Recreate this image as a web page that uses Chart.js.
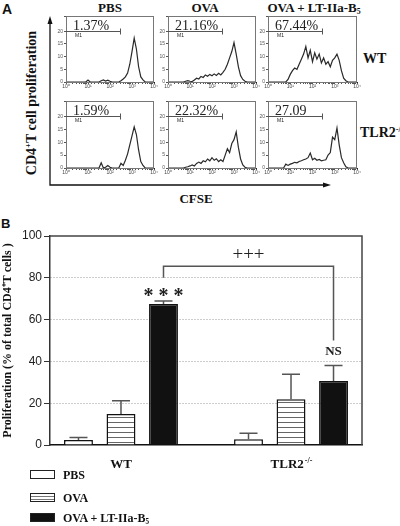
<!DOCTYPE html>
<html>
<head>
<meta charset="utf-8">
<script src="https://cdn.jsdelivr.net/npm/chart.js@4.4.1/dist/chart.umd.min.js"></script>
<style>
body { margin: 0; background: #fff; }
#page { position: relative; width: 400px; height: 526px; overflow: hidden; font-family: 'Liberation Serif', 'Times New Roman', serif; color: #111; }
.lbl { position: absolute; font-weight: bold; white-space: nowrap; line-height: 1; }
.ctr { transform: translateX(-50%); }
.hist { position: absolute; }
.sw { position: absolute; left: 30px; width: 23px; height: 7px; border: 1.5px solid #222; }
sub { font-size: 60%; vertical-align: -2px; }
sup { font-size: 60%; vertical-align: 5px; }
</style>
</head>
<body>
<div id="page">
  <div class="lbl" style="left:2px;top:1px;font:bold 14px 'Liberation Sans',Arial,sans-serif">A</div>
  <div class="lbl ctr" style="left:110px;top:1px;font-size:13px">PBS</div>
  <div class="lbl ctr" style="left:205px;top:1px;font-size:13px">OVA</div>
  <div class="lbl ctr" style="left:314px;top:1px;font-size:13px">OVA + LT-IIa-B<sub>5</sub></div>
  <div class="lbl" style="left:363px;top:52px;font-size:14px">WT</div>
  <div class="lbl" style="left:360px;top:126px;font-size:14px">TLR2<sup>-/-</sup></div>
  <div class="lbl" style="left:32px;top:103px;font-size:14px;transform:translate(-50%,-50%) rotate(-90deg)">CD4<sup>+</sup>T cell proliferation</div>
  <div class="lbl ctr" style="left:196px;top:192px;font-size:13px">CFSE</div>
  <div class="lbl" style="left:1px;top:216px;font:bold 13px 'Liberation Sans',Arial,sans-serif">B</div>

  <svg style="position:absolute;left:0;top:0" width="400" height="200">
    <path d="M50 21 V185 H326" stroke="#111" stroke-width="1.3" fill="none"/>
    <path d="M47.5 24 L50 16 L52.5 24 Z" fill="#111"/>
    <path d="M323 182.5 L331 185 L323 187.5 Z" fill="#111"/>
  </svg>

  <div class="hist" id="w1"><canvas id="c1"></canvas></div>
  <div class="hist" id="w2"><canvas id="c2"></canvas></div>
  <div class="hist" id="w3"><canvas id="c3"></canvas></div>
  <div class="hist" id="w4"><canvas id="c4"></canvas></div>
  <div class="hist" id="w5"><canvas id="c5"></canvas></div>
  <div class="hist" id="w6"><canvas id="c6"></canvas></div>

  <div style="position:absolute;left:0;top:225px;width:400px;height:250px"><canvas id="bars"></canvas></div>

  <div id="legend"></div>
</div>

<script>
// ---- panel A: CFSE histograms ----
const cfseBins = [1, 1.26, 1.58, 2, 2.51, 3.16, 3.98, 5.01, 6.31, 7.94,
  10, 12.6, 15.8, 20, 25.1, 31.6, 39.8, 50.1, 63.1, 79.4,
  100, 126, 158, 200, 251, 316, 398, 501, 631, 794,
  1000, 1259, 1585, 1995, 2512, 3162, 3981, 5012, 6310, 7943, 10000];

const wtPbs = [0, 0, 0, 0, 0, 0, 0, 0, 0, 0,
  0.8, 0, 0, 0, 0, 0, 0.5, 0.8, 0.4, 0.7,
  0.3, 0, 0, 0, 0, 0.5, 1.2, 2, 3.5, 7,
  12, 17.3, 13, 6, 2, 0.8, 0, 0, 0, 0, 0];
const wtOva = [0, 0, 0, 0, 0, 0, 0, 0, 0.3, 0.5,
  0.3, 0.2, 0.8, 1.5, 1.2, 2.2, 1.8, 2.8, 2.3, 3,
  2.5, 3.2, 2.6, 3.4, 2.8, 3.8, 5, 7, 9.5, 12,
  15.5, 11, 6, 2.5, 1, 0.3, 0, 0, 0, 0, 0];
const wtOvaLt = [0, 0, 0, 0, 0, 0, 0, 0, 0, 1,
  3, 4.5, 5.5, 5, 7, 9, 11, 14, 9.5, 12.5,
  8, 11.5, 9, 11, 7.5, 9.5, 7, 8, 6, 8.5,
  9.5, 11, 8.5, 4.5, 1.5, 0.5, 0, 0, 0, 0, 0];
const tlrPbs = [0, 0, 0, 0, 0, 0, 0, 0, 0, 0,
  0, 0, 0, 0, 0, 0, 2, 0, 0.3, 1,
  0.3, 0, 0, 0, 0, 1.8, 1, 3, 5.5, 9,
  12.5, 16, 13, 7, 2.5, 1, 0, 0, 0, 0, 0];
const tlrOva = [0, 0, 0, 0, 0, 0, 0, 0, 0.3, 0.5,
  0.8, 1.2, 0.8, 1.8, 2.3, 1.8, 2.8, 2.4, 3.5, 2.8,
  4, 3, 3.6, 2.5, 3.2, 2.5, 5, 7.5, 6, 9.5,
  11, 14, 8, 3.5, 1.2, 0.3, 0, 0, 0, 0, 0];
const tlrOvaLt = [0, 0, 0, 0, 0, 0, 0, 0, 1.5, 1,
  1.5, 1.8, 2.2, 2, 2.5, 2.8, 3.2, 3.5, 4, 5.8,
  3.2, 3.8, 3, 3.3, 2.8, 3, 3.2, 5, 6, 12,
  11, 15.5, 9, 4, 2, 0.5, 0, 0, 0, 0, 0];

const gatePct = ['1.37%', '21.16%', '67.44%', '1.59%', '22.32%', '27.09'];
const gateLevel = 20;
const gateEnd = 280;

// ---- panel B: proliferation bars ----
const groups = ['WT', 'TLR2'];
const groupSup = ['', '-/-'];
const series = ['PBS', 'OVA', 'OVA + LT-IIa-B5'];
const pbsMean = [2.4, 2.7];
const pbsSem = [1.2, 2.9];
const ovaMean = [14.8, 21.9];
const ovaSem = [6.4, 12.0];
const ovaLtMean = [67.5, 30.6];
const ovaLtSem = [1.4, 7.4];
const yTicks = [0, 20, 40, 60, 80, 100];

const means = [pbsMean, ovaMean, ovaLtMean];
const sems = [pbsSem, ovaSem, ovaLtSem];

const sup = ['\u2070', '\u00b9', '\u00b2', '\u00b3', '\u2074'];

const panels = [
  { id: 'c1', wrap: 'w1', counts: wtPbs, box: [66, 15, 88, 67] },
  { id: 'c2', wrap: 'w2', counts: wtOva, box: [168, 15, 88, 67] },
  { id: 'c3', wrap: 'w3', counts: wtOvaLt, box: [268, 15, 89, 67] },
  { id: 'c4', wrap: 'w4', counts: tlrPbs, box: [66, 100, 88, 68] },
  { id: 'c5', wrap: 'w5', counts: tlrOva, box: [168, 100, 88, 68] },
  { id: 'c6', wrap: 'w6', counts: tlrOvaLt, box: [268, 100, 89, 68] }
];

const gatePlugin = {
  id: 'gate',
  afterDatasetsDraw(chart, args, opts) {
    const { ctx, chartArea: a, scales: { x, y } } = chart;
    ctx.save();
    ctx.strokeStyle = '#777';
    ctx.lineWidth = 1;
    ctx.strokeRect(a.left + 0.5, a.top + 0.5, a.width - 1, a.height);
    const gy = Math.round(y.getPixelForValue(gateLevel)) + 0.5;
    const gx = Math.round(x.getPixelForValue(gateEnd)) + 0.5;
    ctx.strokeStyle = '#555';
    ctx.beginPath();
    ctx.moveTo(a.left, gy);
    ctx.lineTo(gx, gy);
    ctx.moveTo(gx, gy - 3);
    ctx.lineTo(gx, gy + 3);
    ctx.stroke();
    ctx.fillStyle = '#222';
    ctx.font = '14px "Liberation Serif"';
    ctx.textBaseline = 'alphabetic';
    ctx.fillText(opts.pct, a.left + 7, gy - 2);
    ctx.font = '5px "Liberation Sans"';
    ctx.textBaseline = 'top';
    ctx.fillText('M1', a.left + 9, gy + 2);
    ctx.restore();
  }
};

panels.forEach((p, i) => {
  const [L, T, W, H] = p.box;
  const wrap = document.getElementById(p.wrap);
  wrap.style.left = (L - 14) + 'px';
  wrap.style.top = (T - 3) + 'px';
  wrap.style.width = (W + 14 + 8) + 'px';
  wrap.style.height = (H + 3 + 10) + 'px';
  new Chart(document.getElementById(p.id), {
    type: 'line',
    data: {
      datasets: [{
        data: cfseBins.map((x, k) => ({ x, y: p.counts[k] })),
        borderColor: '#2a2a2a',
        borderWidth: 1.2,
        pointRadius: 0,
        tension: 0
      }]
    },
    options: {
      responsive: true,
      maintainAspectRatio: false,
      animation: false,
      layout: { padding: { top: 3, right: 8, left: 0, bottom: 0 } },
      plugins: { legend: { display: false }, tooltip: { enabled: false }, gate: { pct: gatePct[i] } },
      scales: {
        x: {
          type: 'logarithmic', min: 1, max: 10000,
          grid: { drawOnChartArea: false, tickLength: 2, color: '#555' },
          border: { color: '#222' },
          ticks: {
            autoSkip: false, maxRotation: 0, minRotation: 0, padding: 0,
            font: { size: 5, family: 'Liberation Sans' }, color: '#444',
            callback: v => {
              const e = Math.round(Math.log10(v));
              return Math.abs(Math.pow(10, e) - v) < 1e-6 ? '10' + sup[e] : '';
            }
          },
          afterFit: s => { s.height = 10; }
        },
        y: {
          min: 0, max: 26,
          grid: { drawOnChartArea: false, tickLength: 2, color: '#555' },
          border: { color: '#222' },
          ticks: {
            stepSize: 5, padding: 1, font: { size: 5, family: 'Liberation Sans' }, color: '#555',
            callback: v => (v % 5 === 0 ? v : '')
          },
          afterFit: s => { s.width = 14; }
        }
      }
    },
    plugins: [gatePlugin]
  });
});

// ---- bar chart ----
function stripes() {
  const c = document.createElement('canvas');
  c.width = 8; c.height = 5;
  const g = c.getContext('2d');
  g.fillStyle = '#fff'; g.fillRect(0, 0, 8, 5);
  g.fillStyle = '#666'; g.fillRect(0, 2, 8, 1);
  return g.createPattern(c, 'repeat');
}
const fills = ['#ffffff', stripes(), '#111111'];

function drawSup(ctx, base, sp, x, y, size) {
  ctx.font = 'bold ' + size + 'px "Liberation Serif"';
  const w1 = ctx.measureText(base).width;
  ctx.font = 'bold ' + Math.round(size * 0.6) + 'px "Liberation Serif"';
  const w2 = sp ? ctx.measureText(sp).width : 0;
  const x0 = x - (w1 + w2) / 2;
  ctx.textAlign = 'left';
  ctx.font = 'bold ' + size + 'px "Liberation Serif"';
  ctx.fillText(base, x0, y);
  if (sp) {
    ctx.font = 'bold ' + Math.round(size * 0.6) + 'px "Liberation Serif"';
    ctx.fillText(sp, x0 + w1 + 1, y - size * 0.4);
  }
}

const barExtras = {
  id: 'barExtras',
  afterDatasetsDraw(chart) {
    const { ctx, chartArea: a, scales: { x, y } } = chart;
    ctx.save();
    // plot frame
    ctx.strokeStyle = '#444';
    ctx.lineWidth = 1.5;
    ctx.beginPath();
    ctx.moveTo(a.left, a.top);
    ctx.lineTo(a.right, a.top);
    ctx.lineTo(a.right, a.bottom);
    ctx.stroke();
    // error bars (upper only)
    ctx.strokeStyle = '#555';
    chart.data.datasets.forEach((ds, s) => {
      chart.getDatasetMeta(s).data.forEach((bar, g) => {
        const top = y.getPixelForValue(means[s][g] + sems[s][g]);
        ctx.beginPath();
        ctx.moveTo(bar.x, bar.y);
        ctx.lineTo(bar.x, top);
        ctx.moveTo(bar.x - 9, top);
        ctx.lineTo(bar.x + 9, top);
        ctx.stroke();
      });
    });
    // bracket between the two OVA + LT-IIa-B5 bars
    const bl = x.getPixelForValue(2);
    const br = x.getPixelForValue(6);
    const bt = y.getPixelForValue(85.5);
    ctx.beginPath();
    ctx.moveTo(bl, y.getPixelForValue(80));
    ctx.lineTo(bl, bt);
    ctx.lineTo(br, bt);
    ctx.lineTo(br, y.getPixelForValue(50));
    ctx.stroke();
    // significance marks
    ctx.fillStyle = '#222';
    ctx.textAlign = 'center';
    ctx.textBaseline = 'alphabetic';
    ctx.font = '19px "Liberation Serif"';
    ctx.fillText('+++', (bl + br) / 2, y.getPixelForValue(88.5));
    ctx.font = 'bold 20px "Liberation Serif"';
    ctx.fillText('* * *', bl, y.getPixelForValue(68.3));
    ctx.font = 'bold 13px "Liberation Serif"';
    ctx.fillText('NS', br, y.getPixelForValue(43));
    // group labels
    ctx.fillStyle = '#111';
    groups.forEach((g, gi) => {
      drawSup(ctx, g, groupSup[gi], x.getPixelForValue(gi * 4 + 1), a.bottom + 23, 13);
    });
    ctx.restore();
  }
};

new Chart(document.getElementById('bars'), {
  type: 'bar',
  data: {
    datasets: series.map((name, s) => ({
      label: name,
      data: groups.map((g, gi) => ({ x: gi * 4 + s, y: means[s][gi] })),
      backgroundColor: fills[s],
      borderColor: '#111',
      borderWidth: 1.5,
      grouped: false,
      barPercentage: 0.68,
      categoryPercentage: 1
    }))
  },
  options: {
    responsive: true,
    maintainAspectRatio: false,
    animation: false,
    layout: { padding: { top: 11, right: 38, left: 0, bottom: 0 } },
    plugins: { legend: { display: false }, tooltip: { enabled: false } },
    scales: {
      x: {
        type: 'linear', min: -0.67, max: 6.67, offset: false,
        grid: { display: false, offset: false },
        ticks: { display: false },
        border: { color: '#111', width: 1.5 },
        afterFit: s => { s.height = 30; }
      },
      y: {
        min: 0, max: 100,
        afterBuildTicks: s => { s.ticks = yTicks.map(v => ({ value: v })); },
        ticks: { padding: 2, color: '#222', font: { family: 'Liberation Sans', size: 12 } },
        grid: {
          color: c => (c.tick && c.tick.value > 0 && c.tick.value < 100 ? '#9a9a9a' : 'rgba(0,0,0,0)'),
          tickColor: '#333', tickLength: 6, lineWidth: 1
        },
        border: { color: '#333', width: 1.5, dash: [1, 2] },
        title: {
          display: true,
          text: 'Proliferation (% of total CD4\u207aT cells )',
          font: { family: 'Liberation Serif', size: 12, weight: 'bold' },
          color: '#111',
          padding: { top: 1, bottom: 0 }
        },
        afterFit: s => { s.width = 50; }
      }
    }
  },
  plugins: [barExtras]
});

// ---- legend ----
const legendTops = [470, 493, 513];
const swatchCss = ['#fff', 'repeating-linear-gradient(to bottom, #fff 0 2px, #777 2px 3px)', '#111'];
const legendHtml = ['PBS', 'OVA', 'OVA + LT-IIa-B<sub>5</sub>'];
document.getElementById('legend').innerHTML = series.map((s, i) =>
  '<div class="sw" style="top:' + legendTops[i] + 'px;background:' + swatchCss[i] + '"></div>' +
  '<div class="lbl" style="left:63px;top:' + (legendTops[i] - 1) + 'px;font-size:12px">' + legendHtml[i] + '</div>'
).join('');
</script>
</body>
</html>
